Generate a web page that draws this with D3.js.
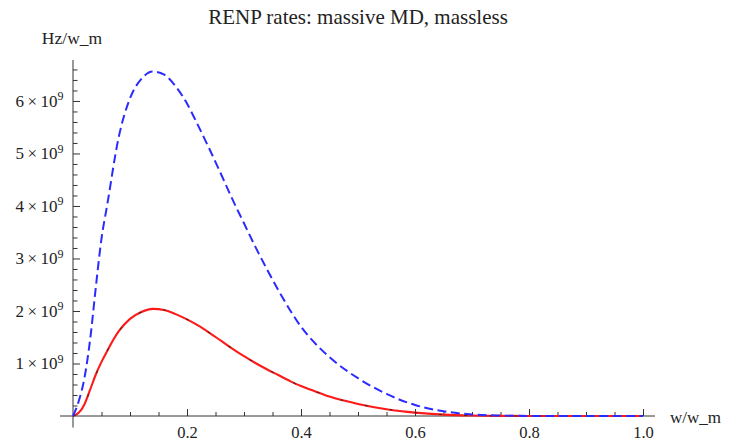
<!DOCTYPE html>
<html>
<head>
<meta charset="utf-8">
<script src="https://cdn.jsdelivr.net/npm/d3@7/dist/d3.min.js"></script>
<style>
  html, body { margin: 0; padding: 0; background: #fff; }
  svg { display: block; }
  svg text { font-family: "Liberation Serif", "Tinos", "Times New Roman", "DejaVu Serif", serif; fill: #222; }
</style>
</head>
<body>
<svg id="chart" width="736" height="441"></svg>
<script>
// ---- data (rates in units of 1e9 Hz/w_m) ----
const wValues = [0, 0.01, 0.02, 0.03, 0.04, 0.05, 0.06, 0.08, 0.10, 0.12, 0.14, 0.16, 0.18, 0.20, 0.22, 0.24, 0.26, 0.28, 0.30, 0.32, 0.34, 0.36, 0.38, 0.40, 0.42, 0.45, 0.50, 0.55, 0.60, 0.65, 0.70, 0.75, 0.80, 0.90, 1.0];
const masslessRate = [0, 0.28, 0.72, 1.45, 2.45, 3.38, 4.02, 5.3, 6.05, 6.42, 6.56, 6.5, 6.28, 5.95, 5.52, 5.07, 4.6, 4.12, 3.67, 3.22, 2.80, 2.40, 2.03, 1.70, 1.44, 1.12, 0.72, 0.42, 0.21, 0.09, 0.03, 0.009, 0.002, 0, 0];
const massiveRate = [0, 0.06, 0.22, 0.50, 0.79, 1.03, 1.24, 1.61, 1.85, 1.98, 2.04, 2.02, 1.94, 1.84, 1.72, 1.58, 1.43, 1.28, 1.14, 1.01, 0.89, 0.78, 0.67, 0.57, 0.49, 0.37, 0.23, 0.13, 0.065, 0.027, 0.009, 0.002, 0, 0, 0];
const massiveMDRate = massiveRate.slice();
const xTickValues = [0.2, 0.4, 0.6, 0.8, 1.0];
const xTickLabels = ["0.2", "0.4", "0.6", "0.8", "1.0"];
const yTickValues = [1, 2, 3, 4, 5, 6];
const yTickMantissas = ["1", "2", "3", "4", "5", "6"];
const yExponent = "9";
const titleText = "RENP rates: massive MD, massless";
const xLabel = "w/w_m";
const yLabel = "Hz/w_m";

// ---- layout ----
const svg = d3.select("#chart");
const x = d3.scaleLinear().domain([0, 1]).range([73, 643]);
const y = d3.scaleLinear().domain([0, 6.78]).range([416, 60]);
const axisColor = "#333";
const serif = '"Liberation Serif", "Tinos", "Times New Roman", "DejaVu Serif", serif';

// title
svg.append("text").attr("x", 358).attr("y", 24).attr("text-anchor", "middle")
  .attr("font-size", 21).text(titleText);
// y label
svg.append("text").attr("x", 72).attr("y", 44).attr("text-anchor", "middle")
  .attr("font-size", 17.5).text(yLabel);
// x label
svg.append("text").attr("x", 670).attr("y", 423).attr("text-anchor", "start")
  .attr("font-size", 17).text(xLabel);

// axis lines
svg.append("line").attr("x1", x(-0.0228)).attr("x2", x(1.0210)).attr("y1", y(0)).attr("y2", y(0))
  .attr("stroke", axisColor).attr("stroke-width", 1);
svg.append("line").attr("x1", x(0)).attr("x2", x(0)).attr("y1", y(6.78)).attr("y2", y(-0.22))
  .attr("stroke", axisColor).attr("stroke-width", 1);

// x axis: minor ticks
const xMinor = d3.range(1, 21).map(i => i * 0.05).filter(v => !xTickValues.some(t => Math.abs(t - v) < 1e-9));
const gxMinor = svg.append("g").attr("transform", `translate(0,${y(0)})`)
  .call(d3.axisBottom(x).tickValues(xMinor).tickSizeInner(-4).tickSizeOuter(0).tickFormat(""));
gxMinor.select(".domain").remove();
gxMinor.selectAll("line").attr("stroke", axisColor);

const gx = svg.append("g").attr("transform", `translate(0,${y(0)})`)
  .call(d3.axisBottom(x).tickValues(xTickValues).tickSizeInner(-7).tickSizeOuter(0).tickPadding(10)
    .tickFormat((d, i) => xTickLabels[i]));
gx.select(".domain").remove();
gx.selectAll("line").attr("stroke", axisColor);
gx.selectAll("text").attr("font-size", null).style("font-size", "16.5px").style("font-family", serif).attr("fill", "#222");

// y axis: minor ticks
const yMinor = d3.range(1, 34).map(i => +(i * 0.2).toFixed(2)).filter(v => Math.abs(v - Math.round(v)) > 1e-6);
const gyMinor = svg.append("g").attr("transform", `translate(${x(0)},0)`)
  .call(d3.axisLeft(y).tickValues(yMinor).tickSizeInner(-4.5).tickSizeOuter(0).tickFormat(""));
gyMinor.select(".domain").remove();
gyMinor.selectAll("line").attr("stroke", axisColor);

const gy = svg.append("g").attr("transform", `translate(${x(0)},0)`)
  .call(d3.axisLeft(y).tickValues(yTickValues).tickSizeInner(-7).tickSizeOuter(0).tickFormat(""));
gy.select(".domain").remove();
gy.selectAll("text").remove();
gy.selectAll("line").attr("stroke", axisColor);

// y tick labels (mantissa × 10^9)
const yLab = svg.append("g").selectAll("text").data(yTickValues).join("text")
  .attr("x", x(0) - 9.5)
  .attr("y", d => y(d) + 6)
  .attr("text-anchor", "end")
  .attr("font-size", 17);
yLab.append("tspan").text((d, i) => yTickMantissas[i] + "\u2009\u00D7\u200910");
yLab.append("tspan").attr("dy", -6.5).attr("font-size", 12).text(yExponent);

// curves
const pts = arr => wValues.map((w, i) => [w, arr[i]]);
const line = d3.line().x(d => x(d[0])).y(d => y(d[1])).curve(d3.curveMonotoneX);

svg.append("path").attr("d", line(pts(massiveRate)))
  .attr("fill", "none").attr("stroke", "#ff1a1a").attr("stroke-width", 2.1);
svg.append("path").attr("d", line(pts(massiveMDRate)))
  .attr("fill", "none").attr("stroke", "#222").attr("stroke-width", 1.1)
  .attr("stroke-dasharray", "3,22").attr("opacity", 0.75);
svg.append("path").attr("d", line(pts(masslessRate)))
  .attr("fill", "none").attr("stroke", "#2b2bff").attr("stroke-width", 2)
  .attr("stroke-dasharray", "9,4.5");
</script>
</body>
</html>
